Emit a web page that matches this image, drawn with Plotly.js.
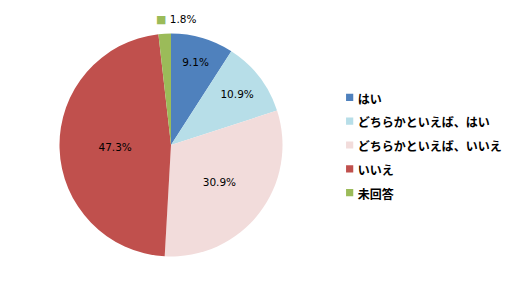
<!DOCTYPE html>
<html><head><meta charset="utf-8">
<script src="https://cdn.plot.ly/plotly-3.0.1.min.js"></script>
<style>html,body{margin:0;padding:0;background:#fff}#chart{width:514px;height:290px}
.legendpoints path{transform:translate(32px,0) scale(0.6)}</style>
</head><body><div id="chart"></div>
<script>
const labels = ["はい", "どちらかといえば、はい", "どちらかといえば、いいえ", "いいえ", "未回答"];
const values = [9.1, 10.9, 30.9, 47.3, 1.8];
const colors = ["#4F81BD", "#B7DEE8", "#F2DCDB", "#C0504D", "#9BBB59"];
const positions = ["inside", "inside", "inside", "inside", "none"];

const texts = values.map(v => v.toFixed(1) + '%');
const legendLabels = labels.map(l => '<span style="font-size:12px">' + l + '</span>');
const outsideIdx = positions.indexOf("none");

const cx = 171, cy = 145, r = 111.5, W = 514, H = 290;
const pctFont = {family: "'DejaVu Sans', sans-serif", size: 10.5, color: "#000"};
const trace = {
  type: "pie",
  labels: legendLabels,
  values: values,
  text: texts,
  textinfo: "text",
  textposition: positions,
  insidetextorientation: "horizontal",
  sort: false,
  direction: "clockwise",
  rotation: 0,
  marker: {colors: colors, line: {width: 0}},
  insidetextfont: pctFont,
  hoverinfo: "none",
  domain: {x: [(cx - r) / W, (cx + r) / W], y: [(H - cy - r) / H, (H - cy + r) / H]}
};
const layout = {
  width: W, height: H,
  margin: {l: 0, r: 0, t: 0, b: 0},
  paper_bgcolor: "#fff",
  showlegend: true,
  legend: {
    x: 0.618, y: 0.5, xanchor: "left", yanchor: "middle",
    font: {family: "'Noto Sans CJK JP', sans-serif", size: 16, color: "#000", weight: "bold"},
    traceorder: "normal"
  },
  annotations: [{
    xref: "paper", yref: "paper", x: 154 / W, y: (H - 19) / H, xanchor: "left", yanchor: "middle",
    showarrow: false,
    text: '<span style="color:' + colors[outsideIdx] + ';font-size:11px">■</span> ' + texts[outsideIdx],
    font: pctFont
  }]
};
Plotly.newPlot("chart", [trace], layout, {staticPlot: true});
</script></body></html>
